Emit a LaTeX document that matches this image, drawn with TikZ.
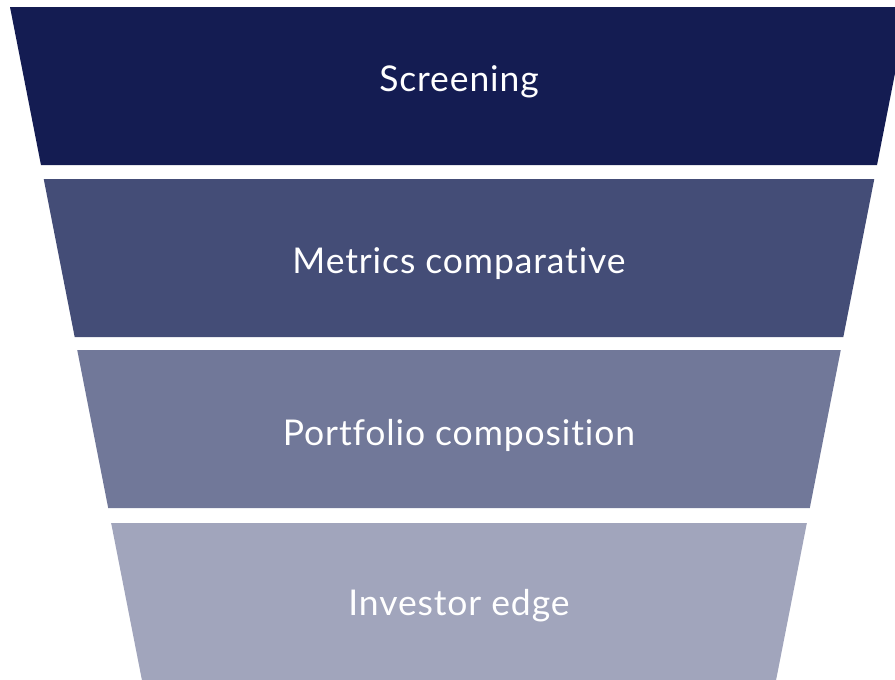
\documentclass[tikz,border=0pt]{standalone}
\usepackage{fontspec}
\setmainfont{Lato}[Ligatures={NoCommon},LetterSpace=2.5]

\definecolor{stageA}{HTML}{141C52}
\definecolor{stageB}{HTML}{444D77}
\definecolor{stageC}{HTML}{717899}
\definecolor{stageD}{HTML}{A1A5BC}

\begin{document}
\begin{tikzpicture}
    [
      x=1pt,y=-1pt,
      stage/.style={draw=none},
      caption/.style={text=white,anchor=base,inner sep=0pt,
        font=\fontsize{35.5}{42}\selectfont}
    ]

    \useasboundingbox (0,0) rectangle (895,680);
    \clip (0,0) rectangle (895,680);

    % funnel sides: x = 10 + 0.196 (y - 7), mirrored about x = 459
    \foreach \top/\base/\col/\name/\txt in {
        7/91/stageA/screening/Screening,
        179/273/stageB/metrics/Metrics comparative,
        350/445/stageC/portfolio/Portfolio composition,
        523/615/stageD/edge/Investor edge} {
      \pgfmathsetmacro\bot{\top+158}
      \pgfmathsetmacro\lt{10+0.196*(\top-7)}
      \pgfmathsetmacro\lb{10+0.196*(\bot-7)}
      \fill [stage,\col] (\lt,\top) -- (918-\lt,\top) -- (918-\lb,\bot)
        -- (\lb,\bot) -- cycle;
      \node [caption] (\name) at (459,\base) {\txt};
    }
  \end{tikzpicture}
\end{document}
